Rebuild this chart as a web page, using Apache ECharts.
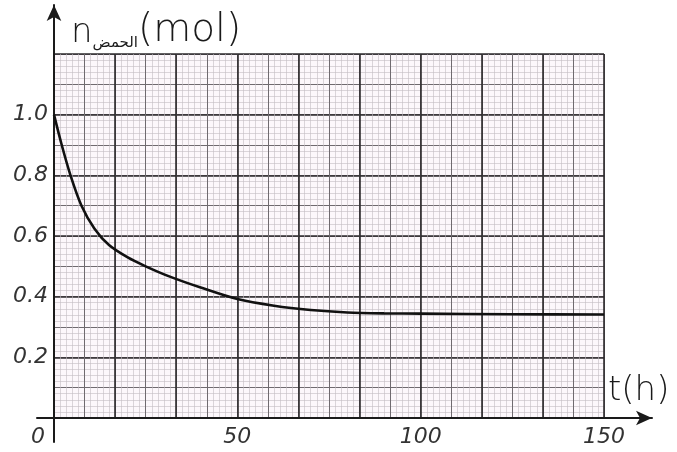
<!DOCTYPE html>
<html>
<head>
<meta charset="UTF-8">
<title>n(t)</title>
<script src="https://cdn.jsdelivr.net/npm/echarts@6/dist/echarts.min.js"></script>
<style>
  html, body { margin: 0; padding: 0; background: #fff; }
  #main { width: 677px; height: 452px; }
</style>
</head>
<body>
<div id="main"></div>
<script>
// data
var tValues = [0, 2, 4.5, 7.5, 11, 15, 20, 25, 31.6, 40, 50, 60, 70, 80, 90, 100, 125, 150];
var nValues = [1.0, 0.905, 0.8, 0.70, 0.625, 0.57, 0.53, 0.5, 0.466, 0.43, 0.392, 0.37, 0.356, 0.348, 0.345, 0.344, 0.342, 0.341];
var xTickLabels = [0, 50, 100, 150];
var yTickLabels = [0.2, 0.4, 0.6, 0.8, 1.0];

var hand = '"DejaVu Sans", sans-serif';
var ink = '#1a1a1a';

var points = [];
for (var i = 0; i < tValues.length; i++) {
    points.push([tValues[i], nValues[i]]);
}

// graph paper axes (no labels, only lines)
function paperX(interval, color, width) {
    return {
        type: 'value', gridIndex: 0, min: 0, max: 150, interval: interval, position: 'bottom',
        axisLine: { show: false }, axisTick: { show: false }, axisLabel: { show: false },
        splitLine: { show: true, lineStyle: { color: color, width: width } }
    };
}
function paperY(interval, color, width) {
    return {
        type: 'value', gridIndex: 0, min: 0, max: 1.2, interval: interval, position: 'left',
        axisLine: { show: false }, axisTick: { show: false }, axisLabel: { show: false },
        splitLine: { show: true, lineStyle: { color: color, width: width } }
    };
}

var myChart = echarts.init(document.getElementById('main'));

myChart.setOption({
    backgroundColor: '#ffffff',
    animation: false,
    grid: [
        { left: 54, right: 73, top: 54, bottom: 34, show: true, backgroundColor: '#fcf7fb', borderWidth: 0 },
        // bigger grid used only for the arrow axes
        { left: 37, right: 25, top: 5, bottom: 10, show: false }
    ],
    title: {
        left: 66, top: 6,
        text: '{n|n}{sub|الحمض}{u|(mol)}',
        textStyle: {
            rich: {
                n: { fontFamily: hand, fontSize: 34, color: ink, fontWeight: 'lighter', verticalAlign: 'bottom' },
                sub: { fontFamily: '"Noto Sans", "DejaVu Sans", sans-serif', fontSize: 15, fontWeight: 'normal', color: ink, padding: [14, 0, 0, 0], verticalAlign: 'bottom' },
                u: { fontFamily: hand, fontSize: 39, color: ink, fontWeight: 'lighter', verticalAlign: 'bottom' }
            }
        }
    },
    xAxis: [
        paperX(5 / 3, '#c2bcc2', 0.6),
        paperX(25 / 3, '#6f6a6f', 1),
        paperX(50 / 3, '#2e2b2e', 1.6),
        {
            type: 'value', gridIndex: 0, min: 0, max: 150, interval: 50, position: 'bottom',
            axisLine: { show: false }, axisTick: { show: false }, splitLine: { show: false },
            axisLabel: {
                show: true, margin: 8, color: '#333', fontFamily: hand, fontSize: 22, fontStyle: 'italic',
                formatter: function (v) {
                    if (xTickLabels.indexOf(v) < 0) return '';
                    return v === 0 ? '{z|0}' : String(v);
                },
                rich: { z: { fontFamily: hand, fontSize: 22, fontStyle: 'italic', color: '#333', padding: [0, 32, 0, 0] } }
            }
        },
        {
            type: 'value', gridIndex: 1, min: -4.636, max: 163.1,
            axisLine: { show: true, onZero: true, symbol: ['none', 'arrow'], symbolSize: [11, 16], lineStyle: { color: ink, width: 2 } },
            axisTick: { show: false }, axisLabel: { show: false }, splitLine: { show: false },
            name: 't(h)', nameLocation: 'end', nameGap: -44,
            nameTextStyle: { fontFamily: hand, fontSize: 34, color: ink, fontWeight: 'lighter', verticalAlign: 'bottom', padding: [0, 0, 10, 0] }
        }
    ],
    yAxis: [
        paperY(0.02, '#c2bcc2', 0.6),
        paperY(0.1, '#6f6a6f', 1),
        paperY(0.2, '#2e2b2e', 1.6),
        {
            type: 'value', gridIndex: 0, min: 0, max: 1.2, interval: 0.2, position: 'left',
            axisLine: { show: false }, axisTick: { show: false }, splitLine: { show: false },
            axisLabel: {
                show: true, margin: 6, color: '#333', fontFamily: hand, fontSize: 22, fontStyle: 'italic',
                formatter: function (v) {
                    for (var k = 0; k < yTickLabels.length; k++) {
                        if (Math.abs(yTickLabels[k] - v) < 1e-9) return v.toFixed(1);
                    }
                    return '';
                }
            }
        },
        {
            type: 'value', gridIndex: 1, min: -0.0795, max: 1.3675,
            axisLine: { show: true, onZero: true, symbol: ['none', 'arrow'], symbolSize: [11, 16], lineStyle: { color: ink, width: 2 } },
            axisTick: { show: false }, axisLabel: { show: false }, splitLine: { show: false }
        }
    ],
    series: [{
        type: 'line',
        xAxisIndex: 2,
        yAxisIndex: 2,
        data: points,
        smooth: 0.3,
        symbol: 'none',
        lineStyle: { color: '#111', width: 2.6 },
        z: 5
    }]
});
</script>
</body>
</html>
